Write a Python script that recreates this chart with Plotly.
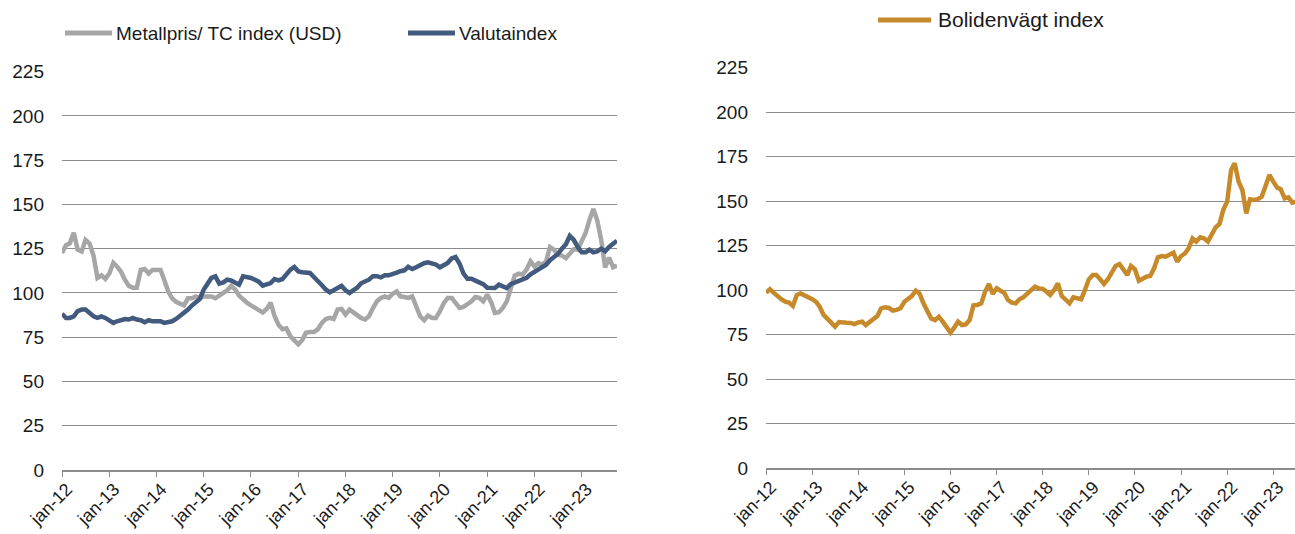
import pandas as pd
import plotly.graph_objects as go

# ---------------- data (monthly, from Jan 2012) ----------------
metallpris = [
    122.6, 127, 128, 134, 124.5, 123.5, 130, 128, 121, 108.5, 110, 108,      # 2012
    111, 117, 115, 112, 107.5, 104, 103, 103, 113, 113.5, 111, 113,          # 2013
    113, 113, 107.5, 101, 97, 95, 94, 93, 97, 97, 98, 97,                    # 2014
    98, 98, 98, 97, 98.5, 100.5, 101.5, 104, 102, 98.5, 96, 94.5,            # 2015
    93, 91.5, 90, 89, 91, 94.5, 87, 82, 79.5, 80, 75.5, 73,                  # 2016
    71, 73.5, 77.5, 78, 78, 79.5, 83, 85.3, 85.9, 85.3, 90.6, 91,            # 2017
    87.8, 90.6, 89.1, 87.8, 85.9, 85, 86.8, 91.5, 95.3, 97.2, 98.1, 97.2,    # 2018
    99.6, 100.9, 98.1, 97.7, 97.2, 98.1, 92.5, 86.8, 84.6, 87.2, 85.9, 85.9, # 2019
    89.7, 94.4, 97.2, 97.2, 94.4, 91.5, 92.1, 93.4, 95.3, 97.7, 97.2, 95.3,  # 2020
    99.1, 94.7, 88.7, 89.1, 91.5, 95.3, 102.3, 109.8, 110.9, 110.3, 113.2, 117.9,  # 2021
    115, 116.9, 116, 117.9, 125.9, 124.4, 121.6, 121.1, 119.7, 122.6, 124.8, 124.4,  # 2022
    130, 134, 141, 147.5, 141, 130, 114.5, 120, 114.5, 115.5,               # 2023
]

valutaindex = [
    88.3, 85.9, 85.9, 86.8, 89.7, 90.6, 90.6, 88.7, 86.8, 85.9, 86.8, 85.9,
    84.6, 83.1, 84, 84.6, 85.3, 85, 85.9, 85, 84.6, 83.5, 84.6, 84,
    84, 84, 83.1, 83.5, 84, 85.3, 86.8, 88.3, 90.6, 92.9, 94.7, 96.6,
    101.9, 105.6, 108.5, 109.4, 105.3, 106, 107.5, 107.1, 106, 104.7, 109.4, 109,
    108.5, 107.5, 106.4, 104.1, 104.7, 105.6, 107.9, 107.1, 107.9, 110.9, 113.2, 114.7,
    112.2, 111.7, 111.7, 111.3, 109, 107, 104.5, 102, 100.4, 101.5, 103, 104,
    101.5, 100, 101.5, 103, 105.5, 106.5, 107.5, 109.5, 109.5, 108.8, 110, 110,
    110.5, 111.5, 112.3, 112.8, 114.8, 113.5, 114.5, 116, 116.8, 117.3, 116.5, 116,
    114.5, 115.5, 117, 119.5, 120.3, 116.5, 111, 108, 108, 107, 106, 105,
    103, 102.8, 102.8, 104.7, 103.5, 102.8, 105, 106, 106.6, 107.5, 108.5, 110.5,
    112, 113, 114.5, 116, 118.5, 120, 122, 125, 127.5, 132.3, 130, 126,
    123, 123, 124.4, 123, 123.5, 125, 123.5, 126, 128, 129.5,
]

bolidenvagt = [
    98.5, 100.4, 98.5, 96.3, 94.8, 93.4, 92.9, 91, 97.2, 98.1, 97, 96.6,
    94.8, 93.3, 90.6, 86, 84, 81.3, 79.4, 82, 81.6, 81.6, 81.5, 80.9,
    81.8, 82.2, 80.3, 82.2, 83.7, 85.4, 89.7, 90.3, 89.9, 88.4, 88.8, 89.7,
    93.4, 94.8, 96.6, 99.6, 98.1, 92.5, 88.4, 84, 83.1, 85, 82.2, 79,
    76, 79, 82.2, 80.3, 80.7, 83.1, 91.4, 91.6, 92.5, 99, 103.4, 97.8,
    101, 99.6, 98.5, 94.4, 92.9, 92.5, 94.8, 96, 98, 100.4, 101.9, 100.9,
    100.6, 99, 97.2, 100, 103.7, 96.6, 94.8, 92.5, 95.9, 95.3, 94.8, 100,
    106, 108.4, 108.4, 106, 103.4, 106, 109.7, 113.5, 114.6, 111.2, 108.4, 113.5,
    111.6, 105.2, 106.6, 107.5, 107.9, 112.2, 118.4, 119.1, 118.7, 120.2, 121, 115.9,
    119.1, 120.6, 123.4, 129, 127.2, 129.6, 129, 127.2, 131.8, 135.2, 137.1, 145,
    149.6, 167.4, 171.2, 160.9, 156.2, 143, 151, 150.6, 151, 152.4, 158.4, 164.6,
    160.9, 157.5, 156.6, 151.5, 152.1, 149.1, 149.6,
]

tick_dates = [f"{y}-01-01" for y in range(2012, 2024)]
tick_labels = [f"jan-{y % 100:02d}" for y in range(2012, 2024)]
y_ticks = list(range(0, 226, 25))

names = ["Metallpris/ TC index (USD)", "Valutaindex", "Bolidenvägt index"]

# ---------------- styling ----------------
W, H = 1295, 534
C_GRAY = "#A6A6A6"
C_BLUE = "#425A7E"
C_GOLD = "#C68A2B"
C_GRID = "#8C8C8C"
FONT = "Liberation Sans, Arial, sans-serif"
TXT = "#1A1A1A"


def fx(px):
    return px / W


def fy(py):
    return 1 - py / H


def months(n):
    return pd.date_range("2012-01-01", periods=n, freq="MS")


fig = go.Figure()

fig.add_trace(go.Scatter(x=months(len(metallpris)), y=metallpris, name=names[0],
                         mode="lines", line=dict(color=C_GRAY, width=4.5),
                         xaxis="x", yaxis="y", showlegend=False))
fig.add_trace(go.Scatter(x=months(len(valutaindex)), y=valutaindex, name=names[1],
                         mode="lines", line=dict(color=C_BLUE, width=4.5),
                         xaxis="x", yaxis="y", showlegend=False))
fig.add_trace(go.Scatter(x=months(len(bolidenvagt)), y=bolidenvagt, name=names[2],
                         mode="lines", line=dict(color=C_GOLD, width=4.5),
                         xaxis="x2", yaxis="y2", showlegend=False))

xcommon = dict(type="date", tickmode="array", tickvals=tick_dates, ticktext=tick_labels,
               tickangle=-45, ticks="outside", ticklen=5, tickwidth=1.3, tickcolor=C_GRID,
               showline=True, linecolor=C_GRID, linewidth=1.5, showgrid=False, zeroline=False,
               tickfont=dict(family=FONT, size=18, color=TXT), fixedrange=True,
               automargin=False, ticklabelshift=5, ticklabelstandoff=-5)
ycommon = dict(range=[0, 225], tickmode="array", tickvals=y_ticks, showgrid=True,
               gridcolor=C_GRID, gridwidth=1.4, zeroline=False, showline=False, ticks="",
               ticklabelstandoff=17, tickfont=dict(family=FONT, size=19, color=TXT),
               fixedrange=True, automargin=False)

fig.update_layout(
    width=W, height=H,
    margin=dict(l=0, r=0, t=0, b=0, pad=0),
    paper_bgcolor="white", plot_bgcolor="white",
    xaxis=dict(domain=[fx(62), fx(617)], range=["2012-01-01", "2023-10-01"], anchor="y", **xcommon),
    yaxis=dict(domain=[fy(470), fy(71.7)], anchor="x", **ycommon),
    xaxis2=dict(domain=[fx(766), 1.0], range=["2012-01-01", "2023-06-22"], anchor="y2", **xcommon),
    yaxis2=dict(domain=[fy(468), fy(67.5)], anchor="x2", **ycommon),
)

# legends drawn as line samples + text labels
legend_items = [
    (65, 112, 33, C_GRAY, names[0], 114, 19),
    (408, 455, 33, C_BLUE, names[1], 457, 19),
    (878, 931, 20, C_GOLD, names[2], 936, 21),
]
for x0, x1, yy, col, label, tx, fs in legend_items:
    fig.add_shape(type="line", xref="paper", yref="paper", x0=fx(x0), x1=fx(x1),
                  y0=fy(yy), y1=fy(yy), line=dict(color=col, width=5))
    fig.add_annotation(xref="paper", yref="paper", x=fx(tx), y=fy(yy), text=label,
                       showarrow=False, xanchor="left", yanchor="middle",
                       font=dict(family=FONT, size=fs, color=TXT))

fig.write_html("out.html", config={"displayModeBar": False},
               post_script="document.body.style.margin='0';")
